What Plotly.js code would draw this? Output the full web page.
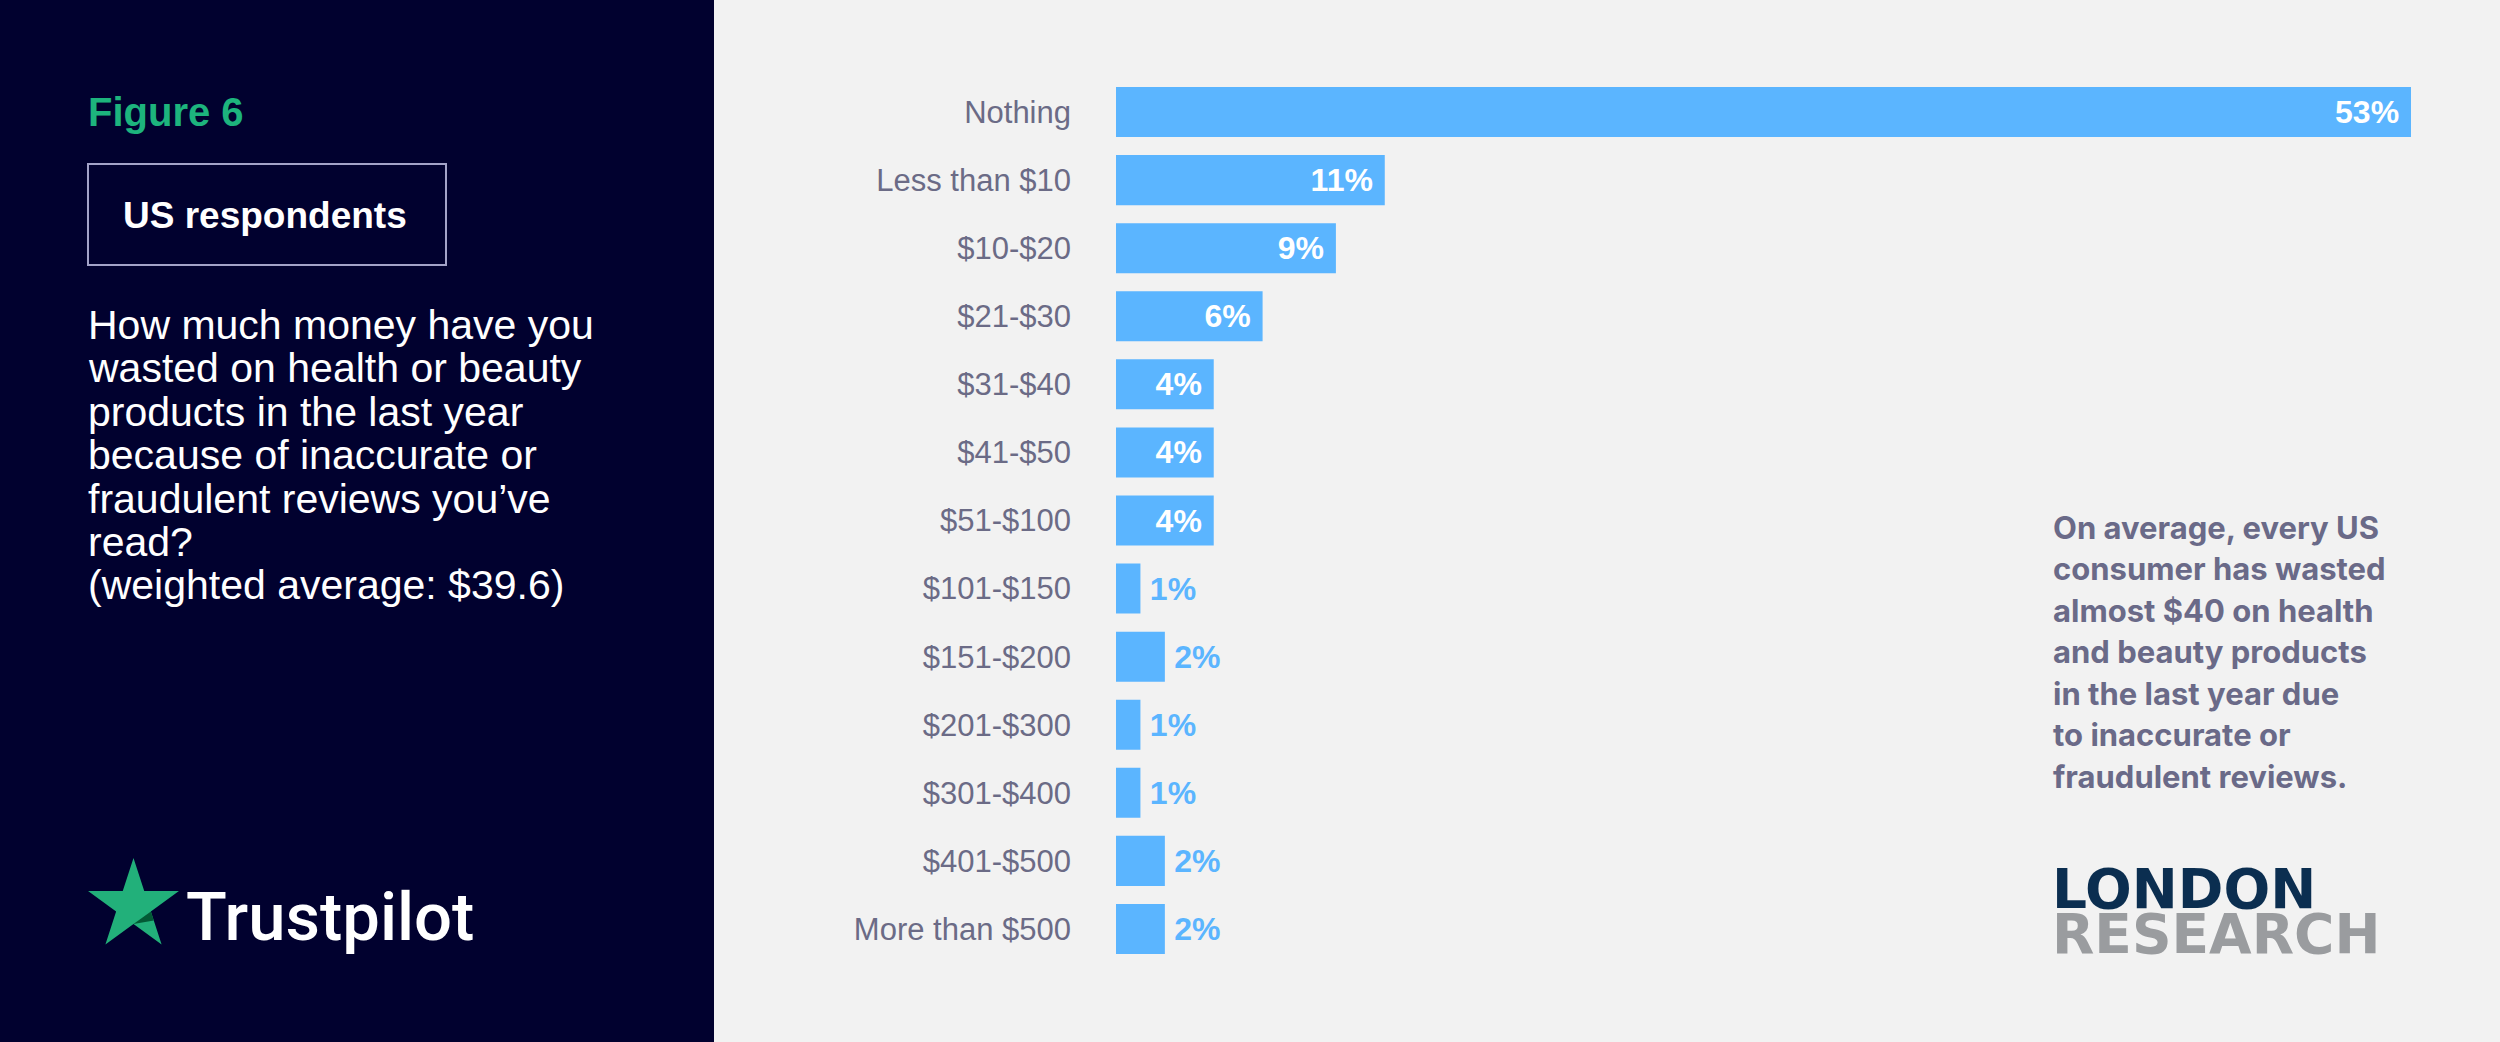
<!DOCTYPE html>
<html>
<head>
<meta charset="utf-8">
<script src="https://cdn.plot.ly/plotly-3.0.1.min.js"></script>
<style>html,body{margin:0;padding:0;background:#f2f2f2;}#chart{width:2500px;height:1042px;}</style>
</head>
<body>
<div id="chart"></div>
<script>
// ---- Data ----
const categories = ["Nothing", "Less than $10", "$10-$20", "$21-$30", "$31-$40", "$41-$50", "$51-$100",
                    "$101-$150", "$151-$200", "$201-$300", "$301-$400", "$401-$500", "More than $500"];
const percentValues = [53, 11, 9, 6, 4, 4, 4, 1, 2, 1, 1, 2, 2];
const figureLabel = "Figure 6";
const panelTag = "US respondents";
const questionLines = ["How much money have you", "wasted on health or beauty", "products in the last year",
                       "because of inaccurate or", "fraudulent reviews you\u2019ve", "read?", "(weighted average: $39.6)"];
const noteLines = ["On average, every US", "consumer has wasted", "almost $40 on health", "and beauty products",
                   "in the last year due", "to inaccurate or", "fraudulent reviews."];

// ---- Styling ----
const BAR = "#5BB5FF";
const NAVY = "#01012F";
const GREY = "#6B6B86";
const SANS = "Liberation Sans, Arial, Helvetica, sans-serif";

// plot area in pixels
const L = 1116, T = 78, W = 1295, H = 885;
const px = x => (x - L) / W;
const py = y => 1 - (y - T) / H;

const insideThreshold = 4;
const labelText = percentValues.map(v => v >= insideThreshold ? v + "%\u00A0" : "\u2009" + v + "%");
const labelPos = percentValues.map(v => v >= insideThreshold ? "inside" : "outside");
const labelColor = percentValues.map(v => v >= insideThreshold ? "#FFFFFF" : BAR);

const trace = {
  type: "bar",
  orientation: "h",
  x: percentValues,
  y: categories,
  marker: {color: BAR},
  text: labelText,
  textposition: labelPos,
  insidetextanchor: "end",
  textangle: 0,
  constraintext: "none",
  cliponaxis: false,
  textfont: {family: SANS, size: 32, weight: "bold", color: labelColor},
  insidetextfont: {family: SANS, size: 32, weight: "bold", color: labelColor},
  outsidetextfont: {family: SANS, size: 32, weight: "bold", color: labelColor},
  hoverinfo: "none"
};

// star geometry for logo
const starC = [133.5, 905.8], Rout = 47.8, Rin = 47.8 * 0.382;
let starPath = "";
for (let i = 0; i < 10; i++) {
  const a = (-90 + i * 36) * Math.PI / 180;
  const r = i % 2 === 0 ? Rout : Rin;
  const xx = starC[0] + r * Math.cos(a), yy = starC[1] + r * Math.sin(a);
  starPath += (i === 0 ? "M" : "L") + px(xx).toFixed(5) + "," + py(yy).toFixed(5);
}
starPath += "Z";
const notchPts = [[150.9, 911.4], [153.8, 920.5], [133.5, 924.1]];
const notchPath = "M" + notchPts.map(p => px(p[0]).toFixed(5) + "," + py(p[1]).toFixed(5)).join("L") + "Z";

const shapes = [
  {type: "rect", xref: "paper", yref: "paper", x0: px(0), x1: px(714), y0: py(1042), y1: py(0),
   fillcolor: NAVY, line: {width: 0}, layer: "below"},
  {type: "rect", xref: "paper", yref: "paper", x0: px(88), x1: px(446), y0: py(265), y1: py(164),
   fillcolor: "rgba(0,0,0,0)", line: {color: "#A3A3C8", width: 2}},
  {type: "path", xref: "paper", yref: "paper", path: starPath, fillcolor: "#22B07A", line: {width: 0}},
  {type: "path", xref: "paper", yref: "paper", path: notchPath, fillcolor: "#035A35", line: {width: 0}}
];

const annotations = [];
function addText(text, x, y, size, color, weight, family, xanchor) {
  annotations.push({xref: "paper", yref: "paper", x: px(x), y: py(y), text: text, showarrow: false,
    xanchor: xanchor || "left", yanchor: "middle", align: "left",
    font: {family: family || SANS, size: size, color: color, weight: weight || "normal"}});
}
addText(figureLabel, 86, 112, 40, "#1DB47D", "bold");
addText(panelTag, 121, 215, 37, "#FFFFFF", "bold");
questionLines.forEach((t, i) => addText(t, 86, 325 + i * 43.4, 41, "#FFFFFF", "normal"));
addText("Trustpilot", 184, 917, 67, "#FFFFFF", 500, "Roboto, Liberation Sans, sans-serif");
noteLines.forEach((t, i) => addText(t, 2051, 527 + i * 41.5, 31, "#6A6A88", "bold", "Inter, Liberation Sans, sans-serif"));
addText("LONDON", 2050, 889, 55, "#0B2E50", "bold", "DejaVu Sans, sans-serif");
addText("RESEARCH", 2050, 934, 55, "#9A9C9F", "bold", "DejaVu Sans, sans-serif");

const layout = {
  width: 2500, height: 1042,
  margin: {l: L, r: 2500 - L - W, t: T, b: 1042 - T - H, pad: 0},
  paper_bgcolor: "#F2F2F2",
  plot_bgcolor: "#F2F2F2",
  showlegend: false,
  bargap: 0.265,
  xaxis: {range: [0, 53], showgrid: false, zeroline: false, showticklabels: false, showline: false, ticks: "", fixedrange: true},
  yaxis: {type: "category", categoryorder: "array", categoryarray: categories, autorange: "reversed",
          showgrid: false, zeroline: false, showline: false, ticks: "", ticklabelstandoff: 44,
          tickfont: {family: SANS, size: 31, color: GREY}, fixedrange: true},
  shapes: shapes,
  annotations: annotations,
  font: {family: SANS}
};

Plotly.newPlot("chart", [trace], layout, {displayModeBar: false, staticPlot: true});
</script>
</body>
</html>
